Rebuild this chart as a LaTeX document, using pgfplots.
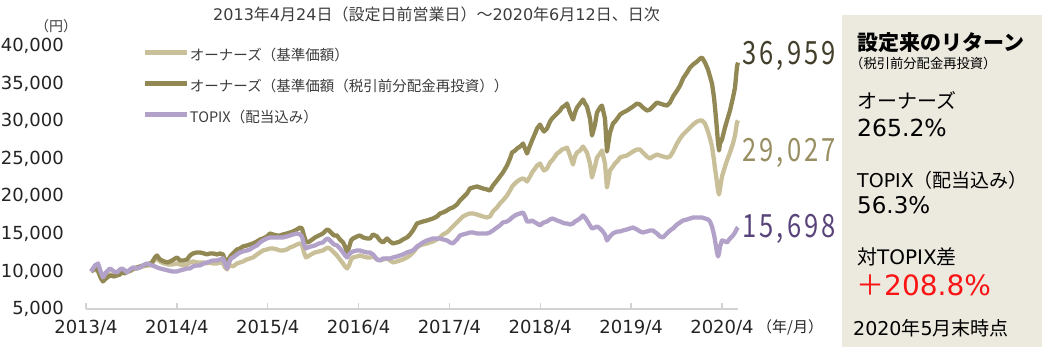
\documentclass[border=0pt]{standalone}
\usepackage{fontspec}
\setmainfont{DejaVu Sans}
\newfontfamily\jp{Noto Sans CJK JP}
\newfontfamily\numfont[FakeStretch=0.8, LetterSpace=10]{Noto Sans CJK JP}
\usepackage{pgfplots}
\pgfplotsset{compat=1.18}
\usepackage{pgfplotstable}
\definecolor{cLight}{RGB}{201,191,152}
\definecolor{cOlive}{RGB}{146,136,84}
\definecolor{cTopix}{RGB}{178,161,201}
\definecolor{cAxis}{RGB}{210,210,210}
\definecolor{cTick}{RGB}{35,35,35}
\definecolor{cText}{RGB}{60,60,60}
\definecolor{cPanel}{RGB}{236,233,223}
\definecolor{cLabO}{RGB}{66,62,42}
\definecolor{cLabL}{RGB}{152,142,98}
\definecolor{cLabT}{RGB}{88,68,122}
\definecolor{cRed}{RGB}{250,20,20}
\pgfplotstableread{
t O L T
2013.305 10000 10000 10000
2013.349 10396 10263 10795
2013.382 10130 9997 11061
2013.415 9066 9199 9864
2013.437 8667 8933 9199
2013.470 9066 9332 9864
2013.514 9465 9598 10396
2013.558 9332 9465 9997
2013.591 9465 9598 9864
2013.624 9598 9731 10263
2013.646 9864 9864 10396
2013.679 9731 9864 10130
2013.701 9997 9997 9864
2013.734 10130 9997 10263
2013.767 10396 10263 10529
2013.811 10529 10396 10396
2013.844 10662 10529 10529
2013.877 10795 10662 10795
2013.921 10928 10795 11061
2013.954 11061 10795 10928
2013.976 11194 11061 10795
2014.009 11859 11593 10662
2014.031 12125 11726 10529
2014.064 11593 11327 10396
2014.108 11327 11061 10263
2014.152 11194 10928 10130
2014.197 11460 10928 9997
2014.252 11859 11061 9997
2014.285 11460 10928 10130
2014.329 11460 10795 10263
2014.362 11593 10928 10396
2014.395 12125 11194 10396
2014.428 12391 11327 10662
2014.472 12524 11194 10795
2014.505 12524 11194 10795
2014.549 12391 11194 11061
2014.582 12258 11061 11194
2014.615 12391 11194 11327
2014.648 12391 11061 11460
2014.692 12258 11061 11460
2014.725 12391 11194 11593
2014.758 12258 11061 11726
2014.780 11460 10529 11061
2014.802 10795 10263 10396
2014.824 11726 10795 11194
2014.846 12125 10795 11726
2014.868 12391 10662 11859
2014.912 12923 11061 12258
2014.945 13056 11194 12524
2014.978 13322 11327 12657
2015.022 13455 11593 12790
2015.055 13588 11726 12923
2015.088 13721 11859 13189
2015.132 13987 12258 13455
2015.165 14253 12524 13854
2015.198 14386 12790 14120
2015.242 14652 12923 14386
2015.275 15051 13056 14519
2015.308 14918 13056 14519
2015.352 14785 12923 14519
2015.385 14785 12790 14519
2015.418 14918 12790 14519
2015.462 15051 12923 14652
2015.495 15184 13189 14785
2015.528 15317 13322 14918
2015.572 15583 13588 15051
2015.605 15849 13721 14918
2015.627 15716 13588 14652
2015.649 14785 12524 13588
2015.671 13987 11859 13056
2015.693 13854 11992 13189
2015.726 14120 12258 13322
2015.770 14519 12524 13455
2015.814 14785 12657 13721
2015.858 15051 12790 13854
2015.891 15450 13056 14253
2015.913 15583 13189 14386
2015.946 15184 12923 13987
2015.979 14785 12524 13588
2016.012 14785 12125 13455
2016.045 14253 11593 13056
2016.079 13854 11061 12524
2016.101 13322 10662 12125
2016.123 12524 10396 11859
2016.145 13189 10795 12258
2016.167 14120 11593 12524
2016.189 14386 11859 12657
2016.233 14652 11992 12790
2016.266 14785 12125 12790
2016.299 14519 11992 12657
2016.343 14386 11859 12524
2016.376 14386 11859 12524
2016.409 14918 11992 12258
2016.453 14652 11593 11593
2016.486 14120 11460 11460
2016.519 13854 11593 11726
2016.563 14386 11726 11726
2016.596 13987 11460 11726
2016.629 13721 11194 11859
2016.673 13854 11327 11992
2016.706 13987 11460 12125
2016.739 14253 11593 12258
2016.783 14519 11859 12524
2016.816 14918 12125 12657
2016.849 15450 12524 12790
2016.893 16381 13189 13322
2016.926 16514 13455 13588
2016.959 16647 13588 13854
2017.003 16780 13721 14120
2017.036 16913 13854 14253
2017.069 17046 13987 14386
2017.113 17312 14253 14386
2017.146 17711 14519 14386
2017.179 17844 14918 14253
2017.223 18110 15184 14120
2017.256 18376 15583 13854
2017.289 18509 15982 13721
2017.333 18908 16514 14253
2017.366 19440 16913 14785
2017.399 19839 17312 14918
2017.443 20371 17578 15051
2017.476 21036 17711 15184
2017.509 21169 17711 15184
2017.553 21302 17578 15051
2017.586 21169 17445 15051
2017.619 21036 17312 15051
2017.663 20903 17179 15051
2017.696 20770 17312 15184
2017.729 21435 17977 15450
2017.773 22100 18509 15849
2017.806 22632 19041 16115
2017.839 23164 19440 16514
2017.884 24095 20105 16647
2017.917 25026 20770 16913
2017.939 25824 21302 17179
2017.972 26090 21701 17445
2017.994 26356 21967 17578
2018.027 26622 22233 17711
2018.060 27021 22366 17844
2018.082 26356 22233 17312
2018.104 25691 21967 16647
2018.137 26755 22632 16647
2018.159 27420 23164 16780
2018.192 28351 23696 16514
2018.214 29016 24095 16381
2018.247 29548 24361 16115
2018.269 29016 23829 16381
2018.291 28617 23430 16514
2018.324 29016 23696 16647
2018.357 29947 24494 16913
2018.379 30346 24760 17046
2018.412 30745 25292 16913
2018.434 31011 25691 16780
2018.467 31410 25957 16647
2018.489 31809 26223 16514
2018.522 32075 26356 16381
2018.544 32341 26489 16381
2018.577 31144 25425 16248
2018.610 30213 24228 16381
2018.632 31144 25292 16647
2018.654 31809 25824 16780
2018.687 32341 26090 17046
2018.720 32873 26622 17445
2018.742 32341 26223 17179
2018.764 31942 25824 16780
2018.797 30346 24361 16115
2018.819 28085 22499 15716
2018.852 29548 23962 15849
2018.874 31144 25159 15982
2018.907 31809 25691 15716
2018.929 32075 26090 15450
2018.962 30346 24361 14918
2018.984 25957 21169 14120
2019.017 28484 23430 14652
2019.050 29681 23962 15051
2019.072 29947 24361 15184
2019.105 30479 24760 15317
2019.127 30878 25159 15317
2019.160 31144 25292 15450
2019.204 31410 25425 15583
2019.237 31676 25691 15716
2019.270 31942 25957 15849
2019.314 32341 26223 15583
2019.347 32208 26223 15317
2019.380 31809 25824 15184
2019.424 31410 25292 15317
2019.457 31543 25026 15450
2019.490 31942 25292 15450
2019.534 32474 25558 15051
2019.567 32341 25425 14652
2019.600 32208 25292 14519
2019.644 32075 25159 15051
2019.678 32474 25292 15450
2019.711 33272 25957 15716
2019.755 34070 27021 16248
2019.788 34735 27686 16514
2019.821 35666 28218 16780
2019.865 36464 28750 16913
2019.898 37129 29149 17046
2019.931 37528 29548 17179
2019.975 37927 29947 17179
2020.008 38326 30080 17179
2020.030 38459 30080 17179
2020.063 37794 29681 17046
2020.096 36863 28617 16913
2020.118 35932 27686 16647
2020.140 35001 26622 15982
2020.162 33139 24760 14918
2020.173 31809 23696 14120
2020.184 30346 22765 13322
2020.195 28750 21834 12524
2020.206 27154 20770 11992
2020.217 26090 20238 12391
2020.228 27021 21036 13322
2020.250 27553 22632 14120
2020.283 29149 23962 13987
2020.305 30080 24760 13854
2020.338 31410 25824 14386
2020.371 33139 27021 14785
2020.393 34469 28085 15184
2020.415 37262 29814 15716
2020.426 37800 30100 15850
}\data
\begin{document}
\begin{tikzpicture}[x=1pt,y=1pt]
\useasboundingbox (0,0) rectangle (1047,352);
\fill[cPanel] (842,5) rectangle (1042,337);
\begin{axis}[
  at={(86pt,43pt)}, anchor=south west,
  scale only axis, width=652pt, height=263pt,
  xmin=2013.25, xmax=2020.426,
  ymin=5000, ymax=40000,
  clip=false,
  axis x line=bottom, axis y line=left,
  x axis line style={-, draw=cAxis, line width=2pt},
  y axis line style={draw=none},
  xtick={2013.25,2014.25,2015.25,2016.25,2017.25,2018.25,2019.25,2020.25},
  xticklabels={2013/4,2014/4,2015/4,2016/4,2017/4,2018/4,2019/4,2020/4},
  ytick={5000,10000,15000,20000,25000,30000,35000,40000},
  xtick align=inside,
  major tick length=6pt,
  xtick style={draw=cAxis, line width=1.5pt},
  ytick style={draw=none},
  scaled y ticks=false,
  yticklabel style={/pgf/number format/.cd, 1000 sep={,}, assume math mode=true, /tikz/.cd, anchor=east, inner sep=0pt, xshift=-19pt, font=\fontsize{18}{18}\selectfont, text=cTick},
  xticklabel style={anchor=north, inner sep=0pt, yshift=-11pt, font=\fontsize{18}{18}\selectfont, text=cTick},
  legend style={at={(0.0874,0.985)}, anchor=north west, draw=none, fill=none, inner sep=0pt, outer sep=0pt, row sep=17pt, column sep=0pt, font=\jp\fontsize{14.5}{14.5}\selectfont, text=cText, nodes={inner sep=0pt, text height=11pt, text depth=3pt}},
  legend cell align=left,
  legend image code/.code={\draw[#1, line width=5pt, line cap=butt] (0pt,4.5pt) -- (42pt,4.5pt);},
]
\addplot[cLight, line width=4.3pt, line join=round] table[x=t, y=L] {\data};
\addlegendentry{オーナーズ（基準価額）}
\addplot[cOlive, line width=4.3pt, line join=round] table[x=t, y=O] {\data};
\addlegendentry{オーナーズ（基準価額（税引前分配金再投資））}
\addplot[cTopix, line width=4.3pt, line join=round] table[x=t, y=T] {\data};
\addlegendentry{TOPIX（配当込み）}
\end{axis}
% titles and labels
\node[text=cText, font=\fontsize{16}{18}\selectfont] at (436.5,338) {2013{\jp 年}4{\jp 月}24{\jp 日（設定日前営業日）〜}2020{\jp 年}6{\jp 月}12{\jp 日、日次}};
\node[text=cText, font=\jp\fontsize{14}{14}\selectfont] at (56,326) {（円）};
\node[text=cTick, font=\jp\fontsize{15}{15}\selectfont, anchor=west, inner sep=0pt] at (757,25) {（年/月）};
\node[text=cLabO, font=\numfont\fontsize{32}{32}\selectfont, anchor=base west, inner sep=0pt] at (742,287.5) {36,\kern3pt959};
\node[text=cLabL, font=\numfont\fontsize{32}{32}\selectfont, anchor=base west, inner sep=0pt] at (742,190.5) {29,\kern3pt027};
\node[text=cLabT, font=\numfont\fontsize{32}{32}\selectfont, anchor=base west, inner sep=0pt] at (742,114.5) {15,\kern3pt698};
% side panel
\node[anchor=west, inner sep=0pt, text=black, font=\jp\bfseries\fontsize{21}{21}\selectfont] at (857,309) {設定来のリターン};
\node[anchor=west, inner sep=0pt, text=black, font=\jp\fontsize{13.3}{13.3}\selectfont] at (850,289) {（税引前分配金再投資）};
\node[anchor=west, inner sep=0pt, text=black, font=\jp\fontsize{20}{20}\selectfont] at (857,252) {オーナーズ};
\node[anchor=west, inner sep=0pt, text=black, font=\fontsize{23.5}{23.5}\selectfont] at (857,224) {265.2\%};
\node[anchor=west, inner sep=0pt, text=black, font=\fontsize{19}{19}\selectfont] at (857,172) {TOPIX{\jp （配当込み）}};
\node[anchor=west, inner sep=0pt, text=black, font=\fontsize{23}{23}\selectfont] at (857,147) {56.3\%};
\node[anchor=west, inner sep=0pt, text=black, font=\fontsize{20}{20}\selectfont] at (857,95) {{\jp 対}TOPIX{\jp 差}};
\node[anchor=west, inner sep=0pt, text=cRed, font=\fontsize{28}{28}\selectfont] at (856,67) {{\jp ＋}208.8\%};
\node[anchor=west, inner sep=0pt, text=black, font=\fontsize{19}{19}\selectfont] at (853,24) {2020{\jp 年}5{\jp 月末時点}};
\end{tikzpicture}
\end{document}
